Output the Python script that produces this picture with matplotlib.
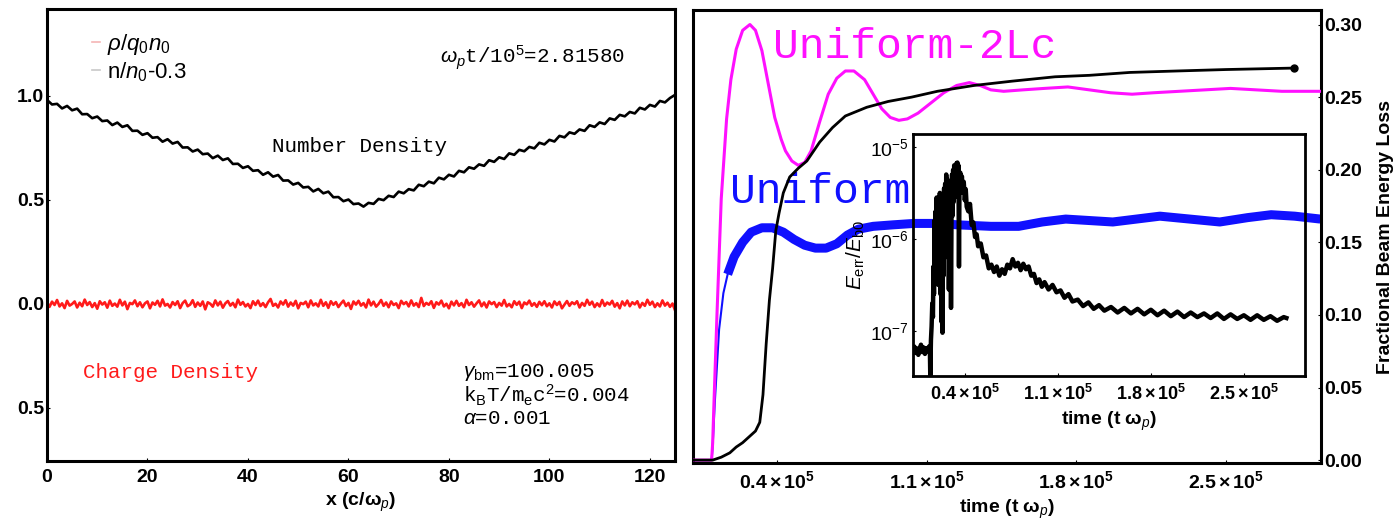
import numpy as np
import matplotlib
matplotlib.use('Agg')
import matplotlib.pyplot as plt
from matplotlib.lines import Line2D
from matplotlib.ticker import FixedLocator, FixedFormatter, NullLocator

plt.rcParams['font.family'] = ['Liberation Sans', 'DejaVu Sans']
plt.rcParams['mathtext.fontset'] = 'custom'
plt.rcParams['mathtext.rm'] = 'Liberation Sans'
plt.rcParams['mathtext.it'] = 'Liberation Sans:italic'
plt.rcParams['mathtext.bf'] = 'Liberation Sans:bold'

# ---------------- left panel data ----------------
# number density (n/n0 - 0.3), one sample per unit of x (c/omega_p), in thousandths
number_density_milli = [
    981, 959, 962, 940, 952, 931, 939, 912, 913, 893, 901, 879, 882, 860, 872, 851,
    859, 832, 833, 813, 821, 799, 802, 780, 792, 771, 779, 752, 753, 733, 742, 720,
    723, 701, 713, 692, 700, 673, 674, 654, 662, 640, 643, 621, 633, 612, 620, 593,
    594, 574, 582, 560, 563, 541, 553, 532, 540, 513, 514, 494, 502, 480, 483, 468,
    486, 481, 505, 499, 520, 514, 540, 532, 552, 546, 573, 566, 588, 580, 607, 599,
    621, 613, 640, 633, 657, 650, 671, 664, 691, 683, 705, 697, 724, 717, 741, 734,
    755, 748, 775, 767, 789, 781, 808, 801, 825, 818, 839, 832, 859, 851, 873, 865,
    892, 885, 909, 902, 923, 916, 943, 935, 957, 949, 976, 969, 990, 1005]

# charge density rho/q0n0, two samples per unit of x, in thousandths
charge_density_milli = [
    8, -14, 11, -5, 19, -12, 3, -20, 15, -8, 0, 12, -17, 6, -11, 21, -5, 9, -15, 4, -23, 13, -3, 8, -18,
    16, -9, 2, -13, 20, -7, 11, -25, 5, -1, 17, -11, 8, -16, 3, 12, -21, 7, -4, 15, -12, 22, -8, 0, -17,
    9, -5, 13, -20, 4, 16, -11, -3, 18, -14, 7, -9, 12, -26, 8, 1, -13, 17, -7, 11, -18, 3, 14, -8, 5,
    -16, 21, -4, 9, -12, 0, -20, 13, -5, 16, -10, 4, -15, 8, 24, -9, 1, -17, 12, -3, 18, -13, 7, -8, 15,
    -21, 5, -1, 11, -16, 17, -7, 3, -12, 20, -9, 8, -19, 13, -4, 9, -15, 2, 16, -10, 5, -24, 12, -3, 15,
    -8, 4, -17, 21, -7, 11, -13, 0, 19, -9, 7, -16, 12, -5, 3, -20, 15, -1, 9, -12, 17, -8, 4, -15, 29,
    -10, 5, -4, 13, -19, 8, -3, 16, -12, 1, -21, 11, -7, 15, -9, 4, -16, 20, -5, 8, -13, 3, 17, -11, 7,
    -17, 12, -1, 9, -15, 5, -8, 19, -12, 0, -16, 13, -4, 11, -20, 7, -2, 16, -9, 4, -14, 10, -6, 13, -11,
    3, -17, 12, -5, 10, -21, -3, 14, -9, 8, -1, 13, -17, 5, -9, 20, -4, 11, -15, 3, -12, 19, -9, 7, -3,
    15, -13, 4, -21, 12, -7, 16, -11, 8, -2, 13, -17, 5, -9, 20, -4, 11, -15, 3, -12, 17, -8, 6, -14, 2,
    -30]

x_max = 125.0
left_yticks = [-0.5, 0.0, 0.5, 1.0]
left_yticklabels = ['0.5', '0.0', '0.5', '1.0']
left_xticks = [0, 20, 40, 60, 80, 100, 120]

# ---------------- right panel data (time in units of 1e5 / omega_p) ----------------
uni2_t = [0.01, 0.095, 0.100, 0.105, 0.12, 0.14, 0.165, 0.185, 0.21, 0.24, 0.274, 0.30, 0.33,
          0.36, 0.39, 0.42, 0.44, 0.47, 0.50, 0.53, 0.56, 0.60, 0.64, 0.68, 0.72, 0.76, 0.81,
          0.85, 0.89, 0.93, 0.97, 1.01, 1.06, 1.12, 1.18, 1.24, 1.30, 1.35, 1.40, 1.46, 1.55,
          1.65, 1.76, 1.86, 1.96, 2.06, 2.16, 2.28, 2.40, 2.52, 2.64, 2.76, 2.94]
uni2_loss = [0.0, 0.0, 0.012, 0.035, 0.10, 0.18, 0.235, 0.262, 0.283, 0.296, 0.300, 0.296, 0.282,
             0.259, 0.236, 0.221, 0.213, 0.206, 0.203, 0.205, 0.213, 0.233, 0.252, 0.263, 0.268,
             0.268, 0.262, 0.252, 0.242, 0.236, 0.234, 0.235, 0.239, 0.246, 0.253, 0.258, 0.260,
             0.258, 0.255, 0.254, 0.255, 0.256, 0.257, 0.255, 0.253, 0.252, 0.253, 0.254, 0.255,
             0.256, 0.255, 0.254, 0.254]

uni_t = [0.01, 0.095, 0.100, 0.11, 0.13, 0.15, 0.17, 0.20, 0.24, 0.28, 0.33, 0.38, 0.43, 0.48,
         0.53, 0.58, 0.63, 0.68, 0.73, 0.78, 0.85, 0.94, 1.04, 1.15, 1.25, 1.40, 1.53, 1.64,
         1.75, 1.86, 1.97, 2.08, 2.19, 2.33, 2.47, 2.60, 2.71, 2.82, 2.94]
uni_loss = [0.0, 0.0, 0.01, 0.04, 0.09, 0.115, 0.128, 0.140, 0.150, 0.157, 0.160, 0.160, 0.157,
            0.152, 0.148, 0.146, 0.146, 0.149, 0.155, 0.159, 0.161, 0.162, 0.163, 0.163, 0.162,
            0.161, 0.161, 0.164, 0.166, 0.165, 0.164, 0.166, 0.168, 0.166, 0.164, 0.167, 0.169,
            0.168, 0.166]
uni_rise_end = 6   # index where the thin rising part turns into the thick band

total_t = [0.01, 0.10, 0.14, 0.18, 0.21, 0.24, 0.27, 0.30, 0.32, 0.335, 0.35, 0.365, 0.38,
           0.395, 0.41, 0.43, 0.46, 0.50, 0.54, 0.60, 0.66, 0.72, 0.82, 0.92, 1.03, 1.15,
           1.32, 1.50, 1.70, 1.86, 2.05, 2.27, 2.50, 2.8158]
total_loss = [0.0, 0.0, 0.002, 0.005, 0.009, 0.012, 0.016, 0.020, 0.026, 0.045, 0.080, 0.110,
              0.132, 0.158, 0.170, 0.184, 0.195, 0.201, 0.206, 0.219, 0.229, 0.237, 0.243,
              0.247, 0.250, 0.254, 0.258, 0.261, 0.264, 0.265, 0.267, 0.268, 0.269, 0.270]

right_xticks = [0.4, 1.1, 1.8, 2.5]
right_yticks = [0.0, 0.05, 0.10, 0.15, 0.20, 0.25, 0.30]

# inset: energy error, log10(E_err/E_b0)
err_t = [0.010, 0.02, 0.03, 0.04, 0.05, 0.06, 0.07, 0.08, 0.09, 0.10, 0.11, 0.12, 0.13, 0.137,
         0.140, 0.145, 0.150, 0.155, 0.160, 0.164, 0.168, 0.172, 0.176, 0.180, 0.184, 0.188,
         0.192, 0.196, 0.200, 0.204, 0.208, 0.212, 0.216, 0.220, 0.224, 0.228, 0.232, 0.236,
         0.240, 0.244, 0.248, 0.252, 0.256, 0.260, 0.264, 0.268, 0.272, 0.276, 0.280, 0.284,
         0.288, 0.292, 0.296, 0.300, 0.304, 0.308, 0.312, 0.316, 0.320, 0.324, 0.328, 0.332,
         0.336, 0.340, 0.344, 0.348, 0.352, 0.356, 0.360, 0.366, 0.372, 0.378, 0.385, 0.392,
         0.400, 0.407, 0.414, 0.426, 0.439, 0.452, 0.464, 0.477, 0.489, 0.50,
         0.52, 0.54, 0.56, 0.58, 0.60, 0.62, 0.64, 0.66, 0.68, 0.70, 0.72, 0.74, 0.76, 0.78,
         0.80, 0.82, 0.84, 0.86, 0.88, 0.90, 0.92, 0.94, 0.96, 0.98, 1.00, 1.03, 1.06, 1.09,
         1.12, 1.15, 1.18, 1.21, 1.25, 1.29, 1.33, 1.37, 1.41, 1.45, 1.50, 1.55, 1.60, 1.65,
         1.70, 1.75, 1.80, 1.85, 1.90, 1.95, 2.00, 2.05, 2.10, 2.15, 2.20, 2.25, 2.30, 2.35,
         2.40, 2.45, 2.50, 2.55, 2.60, 2.65, 2.70, 2.75, 2.80, 2.82]
err_log10 = [-7.22, -7.17, -7.24, -7.19, -7.26, -7.20, -7.15, -7.23, -7.18, -7.25, -7.19, -7.22,
             -7.17, -7.20, -7.49, -7.10, -6.95, -6.70, -6.85, -6.30, -6.60, -5.80, -6.45, -5.70,
             -6.20, -5.55, -6.35, -5.75, -6.50, -5.60, -6.15, -5.50, -6.60, -5.85, -6.90, -6.10,
             -7.02, -5.90, -6.40, -5.45, -6.05, -5.40, -5.95, -5.30, -5.80, -5.35, -6.20, -5.50,
             -6.55, -5.65, -6.10, -5.40, -6.75, -5.70, -5.30, -5.75, -5.25, -5.60, -5.20, -5.55,
             -5.22, -5.48, -5.18, -5.42, -5.17, -5.40, -5.20, -6.30, -5.35, -5.28, -5.45, -5.32,
             -5.50, -5.38, -5.58, -5.46, -5.65, -5.70, -5.62, -5.85, -5.82, -5.98, -5.95, -6.08,
             -6.05, -6.20, -6.18, -6.32, -6.28, -6.36, -6.30, -6.40, -6.33, -6.38,
             -6.28, -6.32, -6.22, -6.30, -6.26, -6.34, -6.27, -6.33, -6.30, -6.40, -6.38, -6.48,
             -6.44, -6.52, -6.47, -6.55, -6.50, -6.58, -6.56, -6.64, -6.60, -6.68, -6.66, -6.73,
             -6.69, -6.76, -6.72, -6.78, -6.74, -6.80, -6.75, -6.81, -6.76, -6.82, -6.77, -6.83,
             -6.78, -6.84, -6.79, -6.85, -6.80, -6.85, -6.81, -6.86, -6.81, -6.87, -6.82, -6.87,
             -6.83, -6.88, -6.83, -6.88, -6.84, -6.89, -6.85, -6.86]
inset_xticks = [0.4, 1.1, 1.8, 2.5]

# ---------------- figure ----------------
fig = plt.figure(figsize=(13.95, 5.19), dpi=100)
MONO = 'Liberation Mono'
MAGENTA = '#ff10ff'
BLUE = '#1010ff'

ax1 = fig.add_axes([47 / 1395, 1 - 461 / 519, 628 / 1395, 452 / 519])
nd = np.array(number_density_milli) / 1000.0
cd = np.array(charge_density_milli) / 1000.0
ax1.plot(np.linspace(0, x_max, len(cd)), cd, color='#ff1a1a', lw=1.9)
ax1.plot(np.linspace(0, x_max, len(nd)), nd, color='black', lw=1.9)
ax1.set_xlim(0, x_max)
ax1.set_ylim(-0.755, 1.418)
ax1.yaxis.set_major_locator(FixedLocator(left_yticks))
ax1.yaxis.set_major_formatter(FixedFormatter(left_yticklabels))
ax1.set_xticks(left_xticks)
ax1.tick_params(axis='x', direction='in', length=2, width=0.8, labelsize=14, pad=6)
ax1.tick_params(axis='y', direction='in', length=2, width=0.8, labelsize=14, pad=2)
for lab in ax1.get_xticklabels() + ax1.get_yticklabels():
    lab.set_fontweight('bold')
ax1.set_xlabel(r'x (c/$\mathbf{\omega}_{\mathit{p}}$)', fontsize=14, fontweight='bold', labelpad=3)
for s in ax1.spines.values():
    s.set_linewidth(2.2)

leg_handles = [Line2D([], [], color='#f5b5b5', lw=1.2), Line2D([], [], color='#c8c8c8', lw=1.2)]
ax1.legend(leg_handles, [r'$\rho/q_0n_0$', r'n/$n_0$-0.3'], loc='upper left',
           bbox_to_anchor=(0.072, 0.95), frameon=False, fontsize=16, handlelength=0.35,
           handletextpad=0.3, labelspacing=0.15, borderpad=0, borderaxespad=0)

ax1.text(0.626, 0.892, r'$\omega_p$t/10$^5$=2.81580', transform=ax1.transAxes, family=MONO,
         fontsize=15, va='center', ha='left')
ax1.text(0.358, 0.695, 'Number Density', transform=ax1.transAxes, family=MONO,
         fontsize=15, va='center', ha='left')
ax1.text(0.057, 0.195, 'Charge Density', transform=ax1.transAxes, family=MONO,
         fontsize=15, va='center', ha='left', color='#ff1a1a')
ax1.text(0.662, 0.195, r'$\gamma_{\rm bm}$=100.005', transform=ax1.transAxes, family=MONO,
         fontsize=15, va='center', ha='left')
ax1.text(0.662, 0.146, r'k$_{\rm B}$T/m$_{\rm e}$c$^2$=0.004', transform=ax1.transAxes, family=MONO,
         fontsize=15, va='center', ha='left')
ax1.text(0.662, 0.095, r'$\alpha$=0.001', transform=ax1.transAxes, family=MONO,
         fontsize=15, va='center', ha='left')

# right panel
ax2 = fig.add_axes([693 / 1395, 1 - 463 / 519, 628 / 1395, 453 / 519])
ut = np.array(uni_t) * 1e5
ax2.plot(ut[:uni_rise_end + 1], uni_loss[:uni_rise_end + 1], color=BLUE, lw=1.5, zorder=2)
ax2.plot(ut[uni_rise_end:], uni_loss[uni_rise_end:], color=BLUE, lw=6.5, zorder=2,
         solid_capstyle='butt')
ax2.plot(np.array(uni2_t) * 1e5, uni2_loss, color=MAGENTA, lw=2.2, zorder=3)
ax2.plot(np.array(total_t) * 1e5, total_loss, color='black', lw=2.0, zorder=4)
ax2.plot(total_t[-1] * 1e5, total_loss[-1], 'o', color='black', ms=5, zorder=5)
ax2.set_xlim(0.008e5, 2.943e5)
ax2.set_ylim(-0.002, 0.310)
ax2.yaxis.tick_right()
ax2.yaxis.set_label_position('right')
ax2.set_yticks(right_yticks)
ax2.set_yticklabels(['%.2f' % v for v in right_yticks])
ax2.set_xticks([v * 1e5 for v in right_xticks])
ax2.set_xticklabels([r'$\mathbf{%.1f\times10^5}$' % v for v in right_xticks])
ax2.tick_params(axis='x', direction='in', length=2, width=0.8, labelsize=14, pad=5)
ax2.tick_params(axis='y', direction='in', length=2, width=0.8, labelsize=14, pad=2)
for lab in ax2.get_yticklabels():
    lab.set_fontweight('bold')
ax2.set_ylabel('Fractional Beam Energy Loss', fontsize=14, fontweight='bold', labelpad=11)
ax2.set_xlabel(r'time (t $\mathbf{\omega}_{\mathit{p}}$)', fontsize=14, fontweight='bold', labelpad=4)
for s in ax2.spines.values():
    s.set_linewidth(2.2)
ax2.text(0.127, 0.918, 'Uniform-2Lc', transform=ax2.transAxes, family=MONO, fontsize=31,
         color=MAGENTA, va='center', ha='left')
ax2.text(0.059, 0.598, 'Uniform', transform=ax2.transAxes, family=MONO, fontsize=31,
         color=BLUE, va='center', ha='left')

# inset
ax3 = fig.add_axes([913 / 1395, 1 - 376 / 519, 392 / 1395, 242 / 519])
ax3.set_facecolor('none')
ax3.plot(np.array(err_t) * 1e5, 10.0 ** np.array(err_log10), color='black', lw=3.2)
ax3.set_yscale('log')
ax3.set_xlim(0.01e5, 2.96e5)
ax3.set_ylim(10 ** -7.49, 10 ** -4.86)
ax3.set_yticks([1e-7, 1e-6, 1e-5])
ax3.yaxis.set_minor_locator(NullLocator())
ax3.set_xticks([v * 1e5 for v in inset_xticks])
ax3.set_xticklabels([r'$\mathbf{%.1f\times10^5}$' % v for v in inset_xticks])
ax3.tick_params(axis='x', direction='in', length=2, width=0.8, labelsize=13, pad=6)
ax3.tick_params(axis='y', direction='in', length=2, width=0.8, labelsize=14, pad=3)
ax3.set_ylabel(r'$E_{\rm err}/E_{\rm b0}$', fontsize=15, labelpad=2)
ax3.set_xlabel(r'time (t $\mathbf{\omega}_{\mathit{p}}$)', fontsize=14, fontweight='bold', labelpad=4)
for s in ax3.spines.values():
    s.set_linewidth(2.0)

fig.savefig('out.png', dpi=100)
